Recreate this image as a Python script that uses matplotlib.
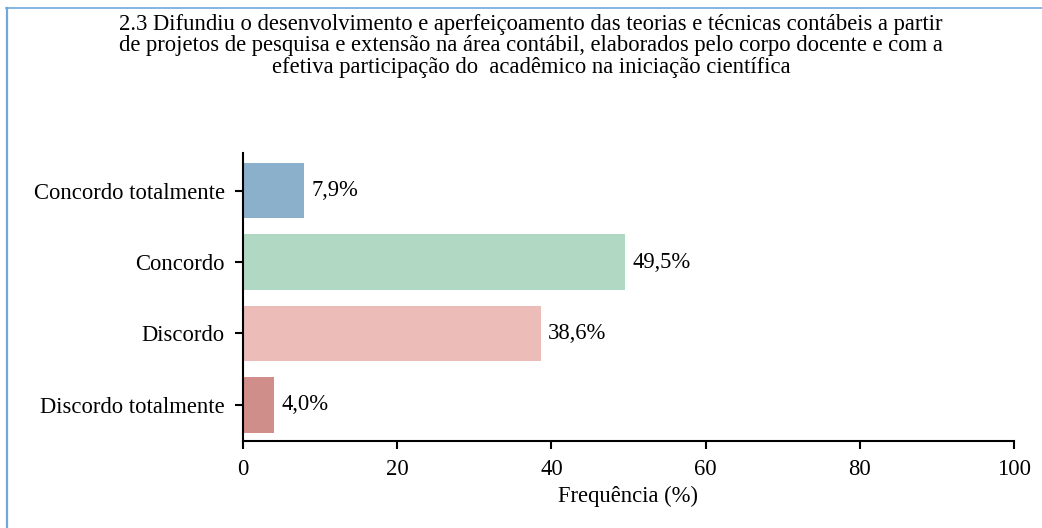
import numpy as np
import matplotlib.pyplot as plt
from matplotlib.lines import Line2D

plt.rcParams['font.family'] = ['Liberation Serif', 'DejaVu Serif']

categorias = ['Discordo totalmente', 'Discordo', 'Concordo', 'Concordo totalmente']
valores = [4.0, 38.6, 49.5, 7.9]
cores = ['#cf8e8a', '#ecbcb8', '#b1d8c3', '#8ab0cb']
titulo = ('2.3 Difundiu o desenvolvimento e aperfeiçoamento das teorias e técnicas contábeis a partir\n'
          'de projetos de pesquisa e extensão na área contábil, elaborados pelo corpo docente e com a\n'
          'efetiva participação do  acadêmico na iniciação científica')

fig = plt.figure(figsize=(10.42, 5.28), dpi=100)
ax = fig.add_axes([0.2332, 0.1648, 0.7399, 0.5454])

y = np.arange(len(categorias))
ax.barh(y, valores, height=0.78, color=cores)
for yi, v in zip(y, valores):
    ax.text(v + 1.0, yi, f'{v:.1f}%'.replace('.', ','), va='center', ha='left', fontsize=16.3)

ax.set_yticks(y)
ax.set_yticklabels(categorias, fontsize=16.3)
ax.set_xlim(0, 100)
ax.set_ylim(-0.505, 3.526)
ax.set_xticks([0, 20, 40, 60, 80, 100])
ax.tick_params(axis='x', labelsize=16.3, length=6, width=1.5, pad=7)
ax.tick_params(axis='y', length=6, width=1.5, pad=7)
ax.set_xlabel('Frequência (%)', fontsize=16.3, labelpad=4)
for s in ['top', 'right']:
    ax.spines[s].set_visible(False)
for s in ['left', 'bottom']:
    ax.spines[s].set_linewidth(1.5)

fig.text(531 / 1042, 1 - 14 / 528, titulo, ha='center', va='top', fontsize=16.3, linespacing=1.02)

# moldura azul (só esquerda e topo visíveis)
fig.add_artist(Line2D([6.5 / 1042, 6.5 / 1042], [0, 1 - 8 / 528], color='#6fa8dc', lw=1.6))
fig.add_artist(Line2D([6 / 1042, 1], [1 - 8 / 528, 1 - 8 / 528], color='#6fa8dc', lw=1.2))

fig.savefig('out.png', dpi=100)
plt.close(fig)
